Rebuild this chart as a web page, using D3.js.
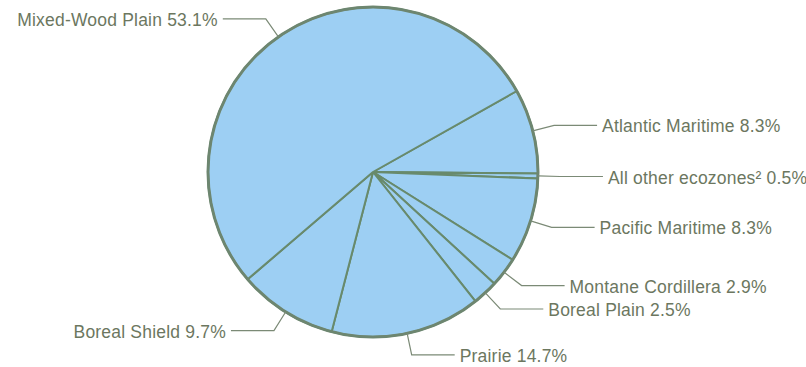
<!DOCTYPE html>
<html>
<head>
<meta charset="utf-8">
<script src="https://cdn.jsdelivr.net/npm/d3@7/dist/d3.min.js"></script>
<style>
  html, body { margin: 0; padding: 0; background: #ffffff; }
  svg { display: block; }
  .label { font-family: "Liberation Sans", Arial, Helvetica, sans-serif; font-size: 17.5px; letter-spacing: 0.2px; fill: #6c775f; }
</style>
</head>
<body>
<svg id="chart" width="806" height="367"></svg>
<script>
// Share of area by ecozone (%), clockwise from the upper right
const ecozones = [
  "Atlantic Maritime",
  "All other ecozones²",
  "Pacific Maritime",
  "Montane Cordillera",
  "Boreal Plain",
  "Prairie",
  "Boreal Shield",
  "Mixed-Wood Plain"
];
const shares = [8.3, 0.5, 8.3, 2.9, 2.5, 14.7, 9.7, 53.1];
const shareLabels = ["8.3%", "0.5%", "8.3%", "2.9%", "2.5%", "14.7%", "9.7%", "53.1%"];

const width = 806, height = 367;
const cx = 373, cy = 172, radius = 165;
const startDeg = 60.6;

const svg = d3.select("#chart");
const g = svg.append("g").attr("transform", `translate(${cx},${cy})`);

const data = ecozones.map((name, i) => ({ name, value: shares[i], label: shareLabels[i] }));

const pie = d3.pie()
  .value(d => d.value)
  .sort(null)
  .startAngle(startDeg * Math.PI / 180)
  .endAngle((startDeg + 360) * Math.PI / 180);

const arcs = pie(data);
const arc = d3.arc().innerRadius(0).outerRadius(radius);

// slices with radial dividers
g.selectAll("path.slice")
  .data(arcs)
  .join("path")
  .attr("class", "slice")
  .attr("d", arc)
  .attr("fill", "#9dcff3")
  .attr("stroke", "#688a6c")
  .attr("stroke-width", 2)
  .attr("stroke-linejoin", "round");

// outer rim
g.append("circle")
  .attr("r", radius)
  .attr("fill", "none")
  .attr("stroke", "#6d8670")
  .attr("stroke-width", 3);

// leader lines: from the rim at the slice's mid-angle, out to an elbow, then horizontal
const rimArc = d3.arc().innerRadius(radius).outerRadius(radius);
const elbowArc = d3.arc().innerRadius(radius + 22).outerRadius(radius + 22);
const runLength = 43, textGap = 5;

const leaders = arcs.map(a => {
  const mid = (a.startAngle + a.endAngle) / 2;
  const p0 = rimArc.centroid(a);
  const p1 = elbowArc.centroid(a);
  const side = Math.sin(mid) >= 0 ? 1 : -1;
  const p2 = [p1[0] + side * runLength, p1[1]];
  return { a, p0, p1, p2, side };
});

g.selectAll("polyline.leader")
  .data(leaders)
  .join("polyline")
  .attr("class", "leader")
  .attr("points", d => [d.p0, d.p1, d.p2].map(p => p.join(",")).join(" "))
  .attr("fill", "none")
  .attr("stroke", "#7b8a76")
  .attr("stroke-width", 1.2);

g.selectAll("text.label")
  .data(leaders)
  .join("text")
  .attr("class", "label")
  .attr("x", d => d.p2[0] + d.side * textGap)
  .attr("y", d => d.p2[1])
  .attr("dy", "0.4em")
  .attr("text-anchor", d => d.side > 0 ? "start" : "end")
  .text(d => `${d.a.data.name} ${d.a.data.label}`);
</script>
</body>
</html>
